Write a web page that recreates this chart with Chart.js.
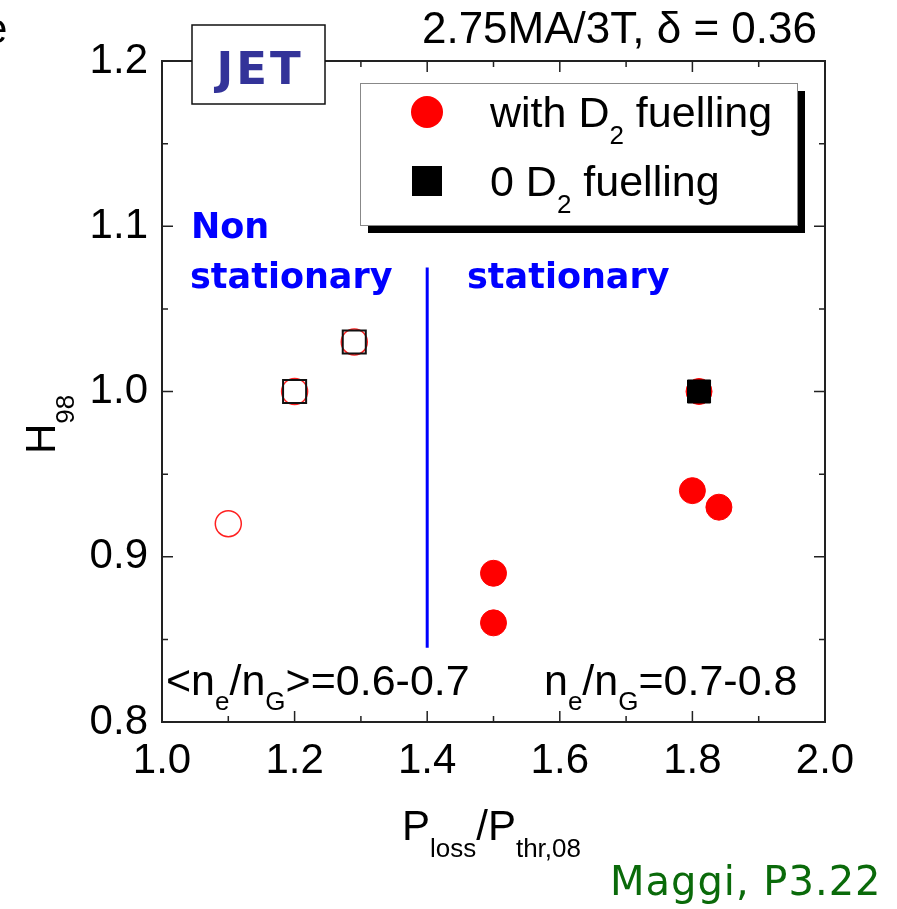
<!DOCTYPE html>
<html>
<head>
<meta charset="utf-8">
<script src="https://cdn.jsdelivr.net/npm/chart.js@4/dist/chart.umd.min.js"></script>
<style>
  html, body { margin: 0; padding: 0; background: #fff; }
  #wrap { width: 897px; height: 909px; position: relative; }
</style>
</head>
<body>
<div id="wrap"><canvas id="h98Chart"></canvas></div>
<script>
// axis ticks
const xTicks = [1.0, 1.2, 1.4, 1.6, 1.8, 2.0];
const xMinor = [1.1, 1.3, 1.5, 1.7, 1.9];
const yTicks = [0.8, 0.9, 1.0, 1.1, 1.2];
const yMinor = [0.85, 0.95, 1.05, 1.15];

// with D2 fuelling, non stationary (open circles)
const nsFuelX = [1.1, 1.2, 1.29];
const nsFuelY = [0.92, 1.0, 1.03];
// with D2 fuelling, stationary (filled circles)
const stFuelX = [1.5, 1.5, 1.8, 1.84, 1.81];
const stFuelY = [0.89, 0.86, 0.94, 0.93, 1.0];
// 0 D2 fuelling, non stationary (open squares)
const nsZeroX = [1.2, 1.29];
const nsZeroY = [1.0, 1.03];
// 0 D2 fuelling, stationary (filled square)
const stZeroX = [1.81];
const stZeroY = [1.0];
// boundary between the two regimes
const splitX = [1.4, 1.4];
const splitY = [0.845, 1.075];

const SANS = '"Liberation Sans", Arial, sans-serif';
const VERD = '"DejaVu Sans", Verdana, sans-serif';

const pts = (xs, ys) => xs.map((x, i) => ({ x: x, y: ys[i] }));

// draws text with subscript pieces: parts = [[text, isSub], ...]
function richText(ctx, x, y, parts, size, subSize, drop) {
  ctx.textAlign = 'left';
  ctx.textBaseline = 'alphabetic';
  let cx = x;
  parts.forEach(([t, sub]) => {
    ctx.font = (sub ? subSize : size) + 'px ' + SANS;
    ctx.fillText(t, cx, sub ? y + drop : y);
    cx += ctx.measureText(t).width;
  });
  return cx;
}

const decorations = {
  id: 'decorations',
  afterDraw(chart) {
    const ctx = chart.ctx;
    const xs = chart.scales.x, ys = chart.scales.y;
    const a = chart.chartArea;
    ctx.save();

    // frame
    ctx.strokeStyle = '#222';
    ctx.lineWidth = 2;
    ctx.strokeRect(a.left, a.top, a.right - a.left, a.bottom - a.top);

    // inward ticks on all four sides
    ctx.lineWidth = 1.5;
    ctx.beginPath();
    const tickX = (v, len) => {
      const px = xs.getPixelForValue(v);
      ctx.moveTo(px, a.bottom); ctx.lineTo(px, a.bottom - len);
      ctx.moveTo(px, a.top); ctx.lineTo(px, a.top + len);
    };
    const tickY = (v, len) => {
      const py = ys.getPixelForValue(v);
      ctx.moveTo(a.left, py); ctx.lineTo(a.left + len, py);
      ctx.moveTo(a.right, py); ctx.lineTo(a.right - len, py);
    };
    xTicks.forEach(v => tickX(v, 11));
    xMinor.forEach(v => tickX(v, 6));
    yTicks.forEach(v => tickY(v, 11));
    yMinor.forEach(v => tickY(v, 6));
    ctx.stroke();

    ctx.fillStyle = '#000';

    // stray letter from the slide on the left
    ctx.font = '42px ' + SANS;
    ctx.textAlign = 'left';
    ctx.fillText('e', -16, 43);

    // title
    ctx.font = '44px ' + SANS;
    ctx.textAlign = 'right';
    ctx.fillText('2.75MA/3T, \u03b4 = 0.36', 817, 43);

    // x title
    richText(ctx, 402, 840, [['P', 0], ['loss', 1], ['/P', 0], ['thr,08', 1]], 42, 26, 17);

    // y title, rotated
    ctx.save();
    ctx.translate(55, 454);
    ctx.rotate(-Math.PI / 2);
    richText(ctx, 0, 0, [['H', 0], ['98', 1]], 42, 26, 19);
    ctx.restore();

    // density ranges
    richText(ctx, 166, 695, [['<n', 0], ['e', 1], ['/n', 0], ['G', 1], ['>=0.6-0.7', 0]], 43, 26, 15);
    richText(ctx, 544, 695, [['n', 0], ['e', 1], ['/n', 0], ['G', 1], ['=0.7-0.8', 0]], 43, 26, 15);

    // regime labels
    ctx.fillStyle = '#0000ff';
    ctx.font = 'bold 35px ' + VERD;
    ctx.textAlign = 'left';
    ctx.fillText('Non', 191, 238);
    ctx.fillText('stationary', 190, 288);
    ctx.fillText('stationary', 467, 288);

    // JET tag
    ctx.fillStyle = '#fff';
    ctx.fillRect(192, 25, 133, 79);
    ctx.strokeStyle = '#111';
    ctx.lineWidth = 1.5;
    ctx.strokeRect(192, 25, 133, 79);
    ctx.fillStyle = '#333399';
    ctx.font = 'bold 45px ' + VERD;
    ctx.letterSpacing = '3px';
    ctx.textAlign = 'center';
    ctx.fillText('JET', 260, 84);
    ctx.letterSpacing = '0px';

    // legend with drop shadow
    ctx.fillStyle = '#000';
    ctx.fillRect(368, 91, 437, 142);
    ctx.fillStyle = '#fff';
    ctx.fillRect(360, 83, 437, 142);
    ctx.strokeStyle = '#888';
    ctx.lineWidth = 1;
    ctx.strokeRect(360.5, 83.5, 437, 142);

    const fuel = chart.data.datasets[2];
    ctx.fillStyle = fuel.pointBackgroundColor;
    ctx.beginPath();
    ctx.arc(427, 112, 16, 0, Math.PI * 2);
    ctx.fill();
    const zero = chart.data.datasets[1];
    ctx.fillStyle = zero.pointBackgroundColor;
    ctx.fillRect(412, 166, 30, 30);

    ctx.fillStyle = '#000';
    richText(ctx, 490, 127, [['with D', 0], ['2', 1], [' fuelling', 0]], 43, 26, 17);
    richText(ctx, 490, 196, [['0 D', 0], ['2', 1], [' fuelling', 0]], 43, 26, 17);

    // credit
    ctx.fillStyle = '#0a6a0a';
    ctx.font = '40px ' + VERD;
    ctx.letterSpacing = '1px';
    ctx.textAlign = 'left';
    ctx.fillText('Maggi, P3.22', 610, 895);
    ctx.letterSpacing = '0px';

    ctx.restore();
  }
};

new Chart(document.getElementById('h98Chart'), {
  type: 'scatter',
  data: {
    datasets: [
      {
        label: '0 D2 fuelling, non stationary',
        data: pts(nsZeroX, nsZeroY),
        pointStyle: 'rect',
        pointRadius: 16.3,
        pointBackgroundColor: 'rgba(255,255,255,0)',
        pointBorderColor: '#111',
        pointBorderWidth: 2,
        order: 0
      },
      {
        label: '0 D2 fuelling',
        data: pts(stZeroX, stZeroY),
        pointStyle: 'rect',
        pointRadius: 16.3,
        pointBackgroundColor: '#000',
        pointBorderColor: '#000',
        pointBorderWidth: 1,
        order: 0
      },
      {
        label: 'with D2 fuelling',
        data: pts(stFuelX, stFuelY),
        pointStyle: 'circle',
        pointRadius: 13,
        pointBackgroundColor: '#ff0000',
        pointBorderColor: '#ff0000',
        pointBorderWidth: 1,
        order: 1
      },
      {
        label: 'with D2 fuelling, non stationary',
        data: pts(nsFuelX, nsFuelY),
        pointStyle: 'circle',
        pointRadius: 13,
        pointBackgroundColor: 'rgba(255,255,255,0)',
        pointBorderColor: '#ff2020',
        pointBorderWidth: 1.5,
        order: 1
      },
      {
        label: 'boundary',
        data: pts(splitX, splitY),
        showLine: true,
        pointRadius: 0,
        borderColor: '#0000ff',
        borderWidth: 3,
        order: 2
      }
    ]
  },
  options: {
    responsive: true,
    maintainAspectRatio: false,
    animation: false,
    events: [],
    layout: { padding: { left: 0, right: 72, top: 61, bottom: 0 } },
    plugins: {
      legend: { display: false },
      tooltip: { enabled: false }
    },
    scales: {
      x: {
        type: 'linear',
        min: 1.0,
        max: 2.0,
        afterBuildTicks: s => { s.ticks = xTicks.map(v => ({ value: v })); },
        afterFit: s => { s.height = 187; },
        grid: { display: false, drawTicks: false },
        border: { display: false },
        ticks: {
          color: '#000',
          padding: 14,
          maxRotation: 0,
          font: { family: SANS, size: 42 },
          callback: v => v.toFixed(1)
        }
      },
      y: {
        type: 'linear',
        min: 0.8,
        max: 1.2,
        afterBuildTicks: s => { s.ticks = yTicks.map(v => ({ value: v })); },
        afterFit: s => { s.width = 162; },
        grid: { display: false, drawTicks: false },
        border: { display: false },
        ticks: {
          color: '#000',
          padding: 14,
          font: { family: SANS, size: 42 },
          callback: v => v.toFixed(1)
        }
      }
    }
  },
  plugins: [decorations]
});
</script>
</body>
</html>
